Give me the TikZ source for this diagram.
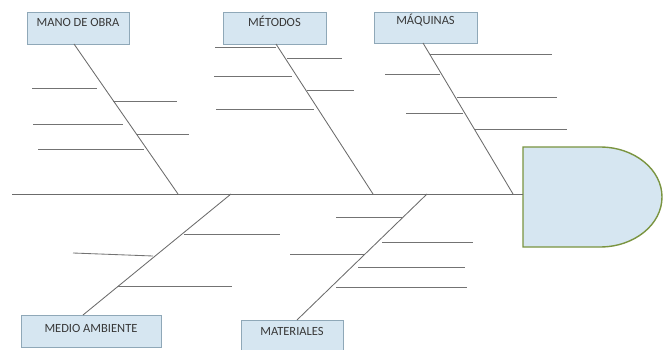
\documentclass[tikz,border=0pt]{standalone}
\usepackage{fontspec}
\setmainfont{Carlito}
\begin{document}
\begin{tikzpicture}[x=1pt,y=-1pt,
  bone/.style={draw=black!58, line width=0.85pt},
  rib/.style={draw=black!55, line width=0.85pt},
  catbox/.style={draw=boxline, fill=boxfill, line width=0.7pt, inner sep=0pt,
    minimum height=32pt, text height=15pt, text depth=17pt,
    text=black!78, font=\fontsize{12.5}{14}\selectfont},
  headshape/.style={draw=headline, fill=boxfill, line width=1.4pt}]
\definecolor{boxfill}{HTML}{D6E6F1}
\definecolor{boxline}{HTML}{8FA8B8}
\definecolor{headline}{HTML}{7A9440}
\useasboundingbox (0,0) rectangle (664,350);

% category boxes
\node[catbox, minimum width=102pt] (mob) at (78,28) {MANO DE OBRA};
\node[catbox, minimum width=103pt] (met) at (274.5,28) {MÉTODOS};
\node[catbox, minimum width=103pt, text height=13pt, text depth=18pt, minimum height=31pt] (maq) at (425.5,27.5) {MÁQUINAS};
\node[catbox, minimum width=140pt, text height=17pt, text depth=15pt] (med) at (91,331) {MEDIO AMBIENTE};
\node[catbox, minimum width=102pt] (mat) at (292,336) {MATERIALES};

% effect head
\draw[headshape] (523,147) -- (600,147)
  arc[start angle=-90, end angle=90, x radius=62, y radius=50]
  -- (523,247) -- cycle;
\coordinate (head) at (523,194);

% spine
\coordinate (tail) at (12,194);
\draw[bone] (tail) -- (head);

% main bones
\coordinate (b1t) at (74,44);   \coordinate (b1b) at (178,194);
\coordinate (b2t) at (276,44);  \coordinate (b2b) at (373,194);
\coordinate (b3t) at (423,43);  \coordinate (b3b) at (513,194);
\coordinate (b4t) at (231,194); \coordinate (b4b) at (83,315);
\coordinate (b5t) at (427,194); \coordinate (b5b) at (297,320);
\draw[bone] (b1t) -- (b1b);
\draw[bone] (b2t) -- (b2b);
\draw[bone] (b3t) -- (b3b);
\draw[bone] (b4t) -- (b4b);
\draw[bone] (b5t) -- (b5b);

% ribs: mano de obra
\draw[rib] (32,88) -- (97,88);
\draw[rib] (113,101) -- (177,101);
\draw[rib] (33,124) -- (123,124);
\draw[rib] (137,134) -- (189,134);
\draw[rib] (38,149) -- (144,149);

% ribs: metodos
\draw[rib] (215,47) -- (276,47);
\draw[rib] (287,58) -- (342,58);
\draw[rib] (214,76) -- (292,76);
\draw[rib] (307,90) -- (354,90);
\draw[rib] (216,109) -- (314,109);

% ribs: maquinas
\draw[rib] (430,54) -- (552,54);
\draw[rib] (385,74) -- (440,74);
\draw[rib] (457,97) -- (557,97);
\draw[rib] (406,113) -- (463,113);
\draw[rib] (475,129) -- (567,129);

% ribs: medio ambiente
\draw[rib] (184,234) -- (280,234);
\draw[rib] (73,253) -- (153,256);
\draw[rib] (118,286) -- (232,286);

% ribs: materiales
\draw[rib] (336,217) -- (402,217);
\draw[rib] (382,242) -- (473,242);
\draw[rib] (290,254) -- (364,254);
\draw[rib] (358,267) -- (465,267);
\draw[rib] (336,287) -- (467,287);
\end{tikzpicture}
\end{document}
